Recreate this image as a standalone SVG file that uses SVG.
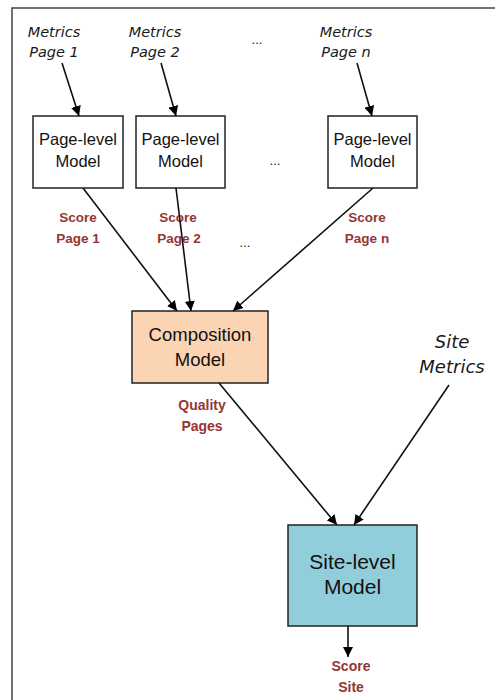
<svg xmlns="http://www.w3.org/2000/svg" width="495" height="700" viewBox="0 0 495 700">
<defs>
<marker id="ah" markerWidth="10" markerHeight="10" viewBox="0 0 10 10" refX="10" refY="5" orient="auto" markerUnits="userSpaceOnUse">
<path d="M0,0 L10,5 L0,10 z" fill="#000"/>
</marker>
<style>
.box{stroke:#222;stroke-width:1.5}
.met{font-family:"DejaVu Sans",Verdana,sans-serif;font-style:italic;fill:#1a1a1a;text-anchor:middle}
.mod{font-family:"Liberation Sans",Arial,sans-serif;fill:#111;text-anchor:middle}
.sc{font-family:"Liberation Sans",Arial,sans-serif;font-weight:bold;fill:#943634;text-anchor:middle}
.dots{font-family:"Liberation Sans",Arial,sans-serif;fill:#111;text-anchor:middle;font-size:13px}
.ln{stroke:#111;stroke-width:1.6;fill:none}
</style>
</defs>
<rect width="495" height="700" fill="#fff"/>
<path d="M12,700 L12,8 L495,8" stroke="#444" stroke-width="1.5" fill="none"/>

<g id="metrics1"><text class="met" font-size="14.5" x="54" y="37">Metrics</text><text class="met" font-size="14.5" x="54" y="57">Page 1</text></g>
<g id="metrics2"><text class="met" font-size="14.5" x="155" y="37">Metrics</text><text class="met" font-size="14.5" x="155" y="57">Page 2</text></g>
<g id="dots-top"><text class="dots" font-size="11" x="257" y="44">...</text></g>
<g id="metricsn"><text class="met" font-size="14.5" x="346" y="37">Metrics</text><text class="met" font-size="14.5" x="346" y="57">Page <tspan>n</tspan></text></g>

<g id="page1"><rect class="box" x="33" y="116" width="90" height="72" fill="#fff"/><text class="mod" font-size="16.5" x="78" y="145">Page-level</text><text class="mod" font-size="16.5" x="78" y="167">Model</text></g>
<g id="page2"><rect class="box" x="136" y="116" width="89" height="72" fill="#fff"/><text class="mod" font-size="16.5" x="180.5" y="145">Page-level</text><text class="mod" font-size="16.5" x="180.5" y="167">Model</text></g>
<g id="dots-mid"><text class="dots" x="275" y="165">...</text></g>
<g id="pagen"><rect class="box" x="328" y="116" width="89" height="72" fill="#fff"/><text class="mod" font-size="16.5" x="372.5" y="145">Page-level</text><text class="mod" font-size="16.5" x="372.5" y="167">Model</text></g>

<g id="score1"><text class="sc" font-size="13.5" x="78" y="222">Score</text><text class="sc" font-size="13.5" x="78" y="243">Page 1</text></g>
<g id="score2"><text class="sc" font-size="13.5" x="178" y="222">Score</text><text class="sc" font-size="13.5" x="179" y="243">Page 2</text></g>
<g id="dots-score"><text class="dots" x="245" y="247">...</text></g>
<g id="scoren"><text class="sc" font-size="13.5" x="367" y="222">Score</text><text class="sc" font-size="13.5" x="367" y="243">Page n</text></g>

<g id="composition"><rect class="box" x="132" y="311" width="136" height="72" fill="#FBD4B4"/><text class="mod" font-size="18.5" x="200" y="341">Composition</text><text class="mod" font-size="18.5" x="200" y="366">Model</text></g>

<g id="sitemetrics"><text class="met" font-size="18" x="452" y="348">Site</text><text class="met" font-size="18" x="452" y="373">Metrics</text></g>

<g id="quality"><text class="sc" font-size="14" x="202" y="410">Quality</text><text class="sc" font-size="14" x="202" y="431">Pages</text></g>

<g id="sitelevel"><rect class="box" x="288" y="525" width="129" height="101" fill="#92CDDC"/><text class="mod" font-size="21" x="352.5" y="569">Site-level</text><text class="mod" font-size="21" x="352.5" y="594">Model</text></g>

<g id="scoresite"><text class="sc" font-size="14" x="351" y="671">Score</text><text class="sc" font-size="14" x="351" y="692">Site</text></g>

<g id="connectors">
<line class="ln" x1="62" y1="63" x2="79" y2="116" marker-end="url(#ah)"/>
<line class="ln" x1="161" y1="63" x2="176" y2="116" marker-end="url(#ah)"/>
<line class="ln" x1="357" y1="63" x2="372" y2="116" marker-end="url(#ah)"/>
<line class="ln" x1="83" y1="188" x2="177" y2="311" marker-end="url(#ah)"/>
<line class="ln" x1="176" y1="188" x2="191" y2="311" marker-end="url(#ah)"/>
<line class="ln" x1="373" y1="188" x2="233" y2="311" marker-end="url(#ah)"/>
<line class="ln" x1="219" y1="383" x2="337" y2="525" marker-end="url(#ah)"/>
<line class="ln" x1="449" y1="385" x2="354" y2="525" marker-end="url(#ah)"/>
<line class="ln" x1="348" y1="626" x2="348" y2="657" marker-end="url(#ah)"/>
</g>
</svg>
